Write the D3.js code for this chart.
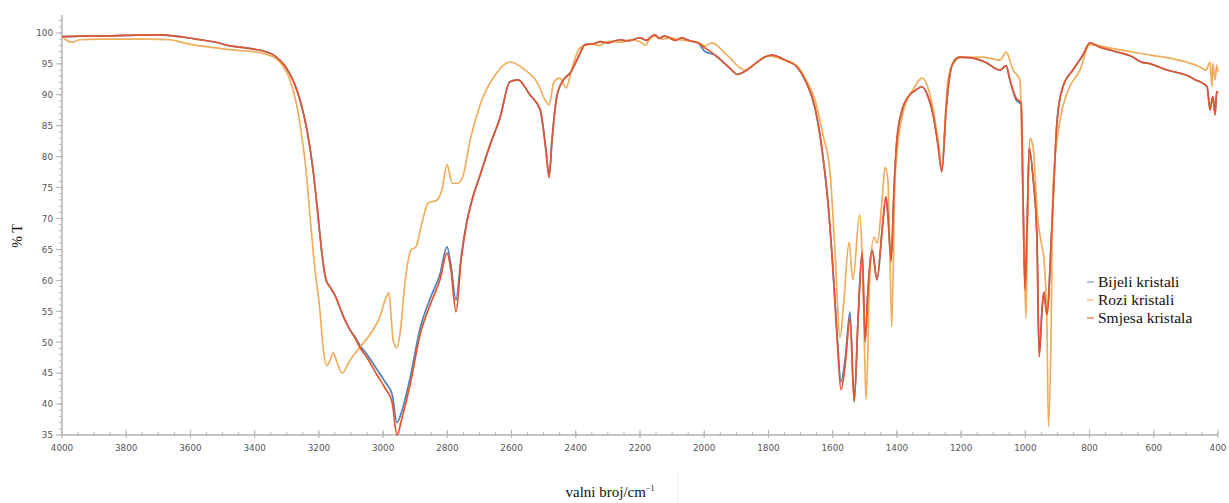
<!DOCTYPE html>
<html><head><meta charset="utf-8">
<script src="https://cdn.jsdelivr.net/npm/d3@7"></script>
<style>
html,body{margin:0;padding:0;background:#fff;}
svg{display:block;}
.serif{font-family:'Liberation Serif','Times New Roman',serif;}
</style></head>
<body>
<svg id="chart" width="1229" height="503"></svg>
<script>
// ---- data (wavenumber cm^-1, %T) ----
const seriesNames = ["Bijeli kristali", "Rozi kristali", "Smjesa kristala"];
const seriesColors = ["#4f81bd", "#f0ad5c", "#e4572e"];
const legendColors = ["#8fb4e3", "#f9c292", "#f28a68"];
const xTickValues = [4000,3800,3600,3400,3200,3000,2800,2600,2400,2200,2000,1800,1600,1400,1200,1000,800,600,400];
const yTickValues = [35,40,45,50,55,60,65,70,75,80,85,90,95,100];

const smjesa = [
[4000,99.4],[3940,99.5],[3882,99.5],[3800,99.6],[3695,99.7],[3620,99.3],[3570,98.9],[3520,98.5],[3477,97.9],[3430,97.6],[3383,97.2],[3337,96.3],[3306,94.7],[3281,92.4],[3259,89.2],[3237,84.3],[3218,77.8],[3203,70.6],[3190,64.1],[3178,60.1],[3165,58.9],[3150,57.6],[3134,55.5],[3119,53.6],[3103,52.0],[3088,50.7],[3072,49.1],[3050,47.5],[3019,44.7],[2994,42.6],[2972,40.3],[2957,35.0],[2941,37.8],[2916,43.1],[2885,51.2],[2854,56.0],[2823,60.1],[2801,64.4],[2789,61.7],[2773,54.9],[2757,63.3],[2739,69.4],[2723,73.0],[2698,77.0],[2667,81.9],[2636,86.3],[2605,92.1],[2580,92.4],[2543,90.0],[2511,87.6],[2493,81.1],[2483,76.6],[2474,82.7],[2458,90.0],[2434,92.7],[2418,93.5],[2393,96.0],[2371,98.1],[2340,98.3],[2324,98.6],[2300,98.4],[2262,98.9],[2240,98.7],[2200,99.2],[2180,98.8],[2165,99.4],[2153,99.7],[2140,99.1],[2125,99.5],[2107,99.2],[2090,98.8],[2070,99.2],[2044,98.7],[2020,98.4],[1998,97.6],[1966,96.4],[1935,95.0],[1910,93.8],[1898,93.3],[1873,93.8],[1842,95.0],[1811,96.1],[1789,96.4],[1748,95.6],[1711,94.5],[1686,92.4],[1655,87.9],[1633,81.1],[1614,72.2],[1599,61.7],[1586,50.4],[1574,42.3],[1561,46.3],[1546,53.9],[1533,40.3],[1521,53.6],[1508,64.6],[1499,50.0],[1490,58.4],[1477,64.9],[1462,60.1],[1446,68.1],[1434,73.5],[1428,70.6],[1418,63.0],[1409,74.6],[1400,82.7],[1384,87.5],[1365,89.7],[1340,90.8],[1322,91.3],[1303,89.7],[1287,86.7],[1272,81.9],[1260,77.5],[1247,87.5],[1228,94.8],[1204,96.1],[1172,96.0],[1126,95.3],[1079,94.0],[1060,94.7],[1048,92.4],[1029,89.5],[1013,88.7],[1007,73.0],[1001,58.4],[994,69.8],[988,81.4],[976,76.6],[964,67.3],[957,47.6],[948,55.2],[942,58.1],[933,54.4],[917,69.0],[901,85.9],[883,91.3],[852,94.0],[821,96.4],[799,98.4],[768,97.7],[720,97.0],[665,96.1],[640,95.3],[610,95.0],[580,94.4],[559,94.0],[520,93.5],[490,93.0],[470,92.4],[456,92.1],[434,91.3],[425,87.5],[416,89.7],[409,86.7],[404,90.5],[400,90.3]
];

const bijeli = [
[4000,99.4],[3940,99.5],[3882,99.5],[3800,99.6],[3695,99.7],[3620,99.3],[3570,98.9],[3520,98.5],[3477,97.9],[3430,97.6],[3383,97.2],[3337,96.3],[3306,94.7],[3281,92.4],[3259,89.2],[3237,84.3],[3218,77.8],[3203,70.6],[3190,64.1],[3178,60.1],[3165,58.9],[3150,57.6],[3134,55.5],[3119,53.6],[3103,52.0],[3088,50.9],[3072,49.5],[3050,48.0],[3019,45.6],[2994,43.6],[2972,41.6],[2957,37.0],[2941,39.0],[2916,44.2],[2885,52.2],[2854,57.0],[2823,61.0],[2801,65.4],[2789,62.5],[2773,56.8],[2757,63.8],[2739,69.6],[2723,73.0],[2698,77.0],[2667,81.9],[2636,86.3],[2605,92.1],[2580,92.4],[2543,90.0],[2511,87.6],[2493,81.1],[2483,76.9],[2474,82.7],[2458,90.0],[2434,92.7],[2418,93.5],[2393,96.0],[2371,98.1],[2340,98.3],[2324,98.6],[2300,98.4],[2262,98.9],[2240,98.7],[2200,99.2],[2180,98.8],[2165,99.4],[2153,99.7],[2140,99.1],[2125,99.5],[2107,99.2],[2090,98.8],[2070,99.2],[2044,98.7],[2020,98.4],[1998,97.0],[1966,96.4],[1935,95.0],[1910,93.8],[1898,93.3],[1873,93.8],[1842,95.0],[1811,96.1],[1789,96.4],[1748,95.6],[1711,94.5],[1686,92.4],[1655,87.9],[1633,81.1],[1614,72.2],[1599,61.7],[1586,51.2],[1574,43.6],[1561,47.3],[1546,54.9],[1533,40.6],[1521,53.6],[1508,64.6],[1499,50.3],[1490,58.4],[1477,64.9],[1462,60.1],[1446,68.1],[1434,73.5],[1428,70.6],[1418,63.4],[1409,74.6],[1400,82.7],[1384,87.5],[1365,89.7],[1340,90.8],[1322,91.3],[1303,89.7],[1287,86.7],[1272,81.9],[1260,77.8],[1247,87.5],[1228,94.8],[1204,96.1],[1172,96.0],[1126,95.3],[1079,94.0],[1060,94.7],[1048,92.4],[1029,89.2],[1013,88.4],[1007,73.0],[1001,59.0],[994,69.8],[988,81.4],[976,76.6],[964,67.3],[957,48.2],[948,55.2],[942,58.1],[933,54.8],[917,69.0],[901,85.9],[883,91.3],[852,94.0],[821,96.4],[799,98.4],[768,97.7],[720,97.0],[665,96.1],[640,95.3],[610,95.0],[580,94.4],[559,94.0],[520,93.5],[490,93.0],[470,92.4],[456,92.1],[434,91.3],[425,87.8],[416,89.7],[409,87.0],[404,90.5],[400,90.3]
];

const rozi = [
[4000,99.5],[3988,98.9],[3969,98.5],[3944,98.9],[3880,99.0],[3819,99.0],[3740,99.0],[3664,98.9],[3620,98.4],[3570,97.9],[3520,97.6],[3477,97.3],[3430,97.1],[3383,96.8],[3337,96.0],[3312,94.7],[3290,92.4],[3271,88.8],[3256,84.3],[3240,77.8],[3228,70.6],[3212,61.7],[3197,55.2],[3187,49.2],[3175,46.2],[3165,47.1],[3156,48.3],[3144,46.8],[3128,45.0],[3103,47.1],[3072,49.2],[3035,51.7],[3010,54.1],[2991,57.2],[2982,58.0],[2975,54.2],[2969,50.4],[2957,49.1],[2947,51.5],[2932,59.6],[2913,64.9],[2898,65.4],[2879,69.3],[2860,72.5],[2832,73.0],[2817,74.6],[2801,78.7],[2785,75.7],[2767,75.7],[2751,76.9],[2729,82.7],[2698,88.4],[2651,93.2],[2605,95.3],[2558,94.0],[2518,91.8],[2496,89.2],[2483,88.4],[2468,92.1],[2449,92.7],[2430,91.1],[2412,94.3],[2387,97.6],[2356,98.2],[2330,98.0],[2293,98.7],[2260,98.5],[2231,98.9],[2200,98.6],[2184,98.0],[2170,99.0],[2153,99.5],[2130,99.0],[2107,99.2],[2080,98.9],[2044,98.7],[2020,98.5],[1998,97.9],[1976,98.4],[1929,96.4],[1873,94.0],[1842,95.0],[1801,96.3],[1748,95.6],[1711,94.7],[1686,92.7],[1655,89.2],[1630,83.5],[1608,77.4],[1593,64.9],[1577,50.8],[1565,56.8],[1549,66.2],[1537,60.1],[1516,70.6],[1505,58.4],[1496,40.7],[1484,61.2],[1471,67.0],[1462,66.0],[1446,73.0],[1437,78.3],[1428,76.2],[1422,64.9],[1416,52.5],[1406,76.2],[1381,87.1],[1350,90.8],[1322,92.7],[1291,88.7],[1272,82.7],[1260,78.3],[1241,92.4],[1213,96.0],[1132,96.1],[1079,95.6],[1060,96.9],[1038,94.0],[1017,92.4],[1007,71.9],[998,53.9],[992,73.0],[986,83.0],[976,81.6],[961,69.8],[948,65.4],[942,63.3],[933,53.6],[928,36.3],[920,50.8],[914,75.1],[892,85.9],[870,90.3],[830,94.0],[799,98.1],[730,97.5],[665,96.9],[610,96.4],[559,96.0],[500,95.3],[456,94.5],[437,94.0],[425,95.3],[419,91.3],[416,95.1],[409,92.4],[404,94.8],[400,93.7]
];

const allSeries = [bijeli, rozi, smjesa];

// ---- layout ----
const svg = d3.select("#chart");
const x = d3.scaleLinear().domain([4000, 400]).range([62, 1218]);
const y = d3.scaleLinear().domain([35, 102.9]).range([435, 15]);
const axisColor = "#b3b3b3";
const labelColor = "#555";

// minor y ticks (every 1 unit)
const yMinor = d3.range(35, 103, 1);
svg.append("g").selectAll("line").data(yMinor).join("line")
  .attr("x1", 59).attr("x2", 62)
  .attr("y1", d => y(d)).attr("y2", d => y(d))
  .attr("stroke", axisColor).attr("stroke-width", 1);
svg.append("g").selectAll("line").data(yTickValues).join("line")
  .attr("x1", 56).attr("x2", 62)
  .attr("y1", d => y(d)).attr("y2", d => y(d))
  .attr("stroke", axisColor).attr("stroke-width", 1);
svg.append("g").selectAll("text").data(yTickValues).join("text")
  .attr("x", 53).attr("y", d => y(d) + 3.3)
  .attr("text-anchor", "end")
  .attr("font-family", "DejaVu Sans, sans-serif").attr("font-size", 8.8)
  .attr("fill", labelColor).text(d => d);

// minor x ticks every 50
const xMinor = d3.range(4000, 399, -50);
svg.append("g").selectAll("line").data(xMinor).join("line")
  .attr("x1", d => x(d)).attr("x2", d => x(d))
  .attr("y1", 435).attr("y2", 432)
  .attr("stroke", axisColor).attr("stroke-width", 1);
svg.append("g").selectAll("line").data(xTickValues).join("line")
  .attr("x1", d => x(d)).attr("x2", d => x(d))
  .attr("y1", 438).attr("y2", 430)
  .attr("stroke", axisColor).attr("stroke-width", 1);
svg.append("g").selectAll("text").data(xTickValues).join("text")
  .attr("x", d => x(d)).attr("y", 451)
  .attr("text-anchor", "middle")
  .attr("font-family", "DejaVu Sans, sans-serif").attr("font-size", 8.8)
  .attr("fill", labelColor).text(d => d);

// axis lines
svg.append("line").attr("x1", 62).attr("x2", 62).attr("y1", 15).attr("y2", 435)
  .attr("stroke", axisColor).attr("stroke-width", 1.5);
svg.append("line").attr("x1", 62).attr("x2", 1218).attr("y1", 435).attr("y2", 435)
  .attr("stroke", axisColor).attr("stroke-width", 1.5);

// series lines
const line = d3.line().x(d => x(d[0])).y(d => y(d[1])).curve(d3.curveMonotoneX);
svg.append("g").selectAll("path").data(allSeries).join("path")
  .attr("d", d => line(d))
  .attr("fill", "none")
  .attr("stroke", (d, i) => seriesColors[i])
  .attr("stroke-width", 1.7)
  .attr("stroke-linejoin", "round");

// axis titles
svg.append("text").attr("class", "serif")
  .attr("transform", "translate(22,236) rotate(-90)")
  .attr("text-anchor", "middle").attr("font-size", 14)
  .attr("fill", "#111").text("% T");
const xt = svg.append("text").attr("class", "serif")
  .attr("x", 610).attr("y", 497)
  .attr("text-anchor", "middle").attr("font-size", 15)
  .attr("fill", "#111");
xt.append("tspan").text("valni broj/cm");
xt.append("tspan").attr("dy", -6).attr("font-size", 8).text("−1");
svg.append("line").attr("x1", 678).attr("x2", 678).attr("y1", 470).attr("y2", 503)
  .attr("stroke", "#f0f0f0").attr("stroke-width", 1);

// legend
const lg = svg.append("g");
seriesNames.forEach((name, i) => {
  const cy = 282 + i * 18;
  lg.append("line").attr("x1", 1087).attr("x2", 1094).attr("y1", cy).attr("y2", cy)
    .attr("stroke", legendColors[i]).attr("stroke-width", 1.5);
  lg.append("text").attr("class", "serif").attr("x", 1098).attr("y", cy + 5)
    .attr("font-size", 15.5)
    .attr("fill", "#111").text(name);
});
</script>
</body></html>
